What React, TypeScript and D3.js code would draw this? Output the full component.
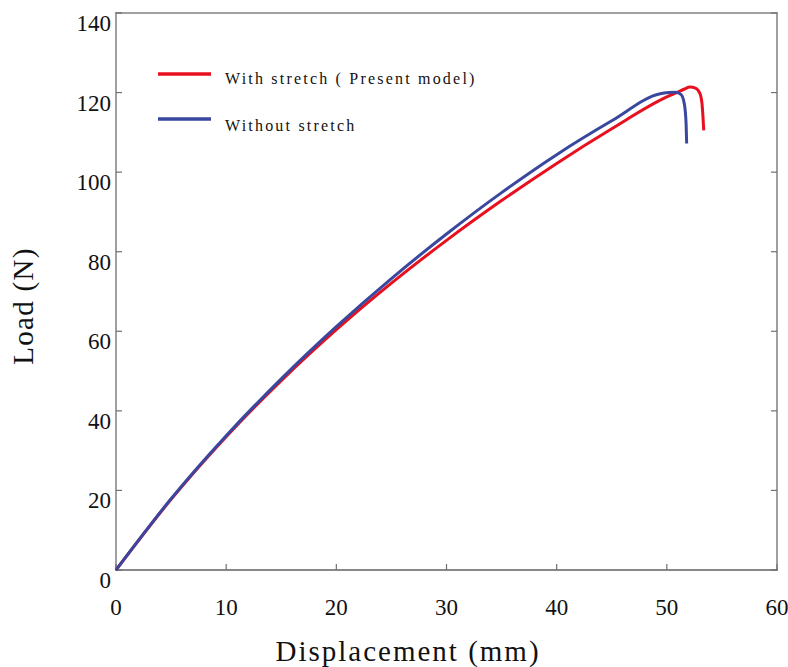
import React from "react";
import * as d3 from "d3";

// displacement (mm) / load (N)
const withStretchX = [0, 5, 10, 15, 20, 25, 30, 35, 40, 45, 50, 51, 51.6, 52.1, 52.6, 53.0, 53.2, 53.3, 53.35];
const withStretchY = [0, 17.75, 33.5, 47.6, 60.4, 72.1, 82.85, 92.85, 102.2, 110.9, 118.9, 120.1, 120.9, 121.4, 121.1, 119.8, 117, 113, 110.5];
const withoutStretchX = [0, 5, 10, 15, 20, 25, 30, 35, 40, 45, 49.4, 50.2, 50.8, 51.3, 51.6, 51.75, 51.8];
const withoutStretchY = [0, 17.9, 33.75, 48.05, 61.15, 73.25, 84.45, 94.85, 104.4, 112.9, 119.7, 120.0, 120.1, 119.5, 117, 112, 107.2];

const xTicks = [0, 10, 20, 30, 40, 50, 60];
const yTicks = [0, 20, 40, 60, 80, 100, 120, 140];

const seriesNames = ["With stretch ( Present model)", "Without stretch"];
const seriesColors = ["#e8101e", "#3a479e"];

const W = 788;
const H = 667;
const m = { left: 116, right: 11, top: 13, bottom: 97 };

export default function App() {
  const x = d3.scaleLinear().domain([0, 60]).range([m.left, W - m.right]);
  const y = d3.scaleLinear().domain([0, 140]).range([H - m.bottom, m.top]);

  const line = d3
    .line<[number, number]>()
    .x((d) => x(d[0]))
    .y((d) => y(d[1]))
    .curve(d3.curveMonotoneX);

  const series = [
    withStretchX.map((v, i) => [v, withStretchY[i]] as [number, number]),
    withoutStretchX.map((v, i) => [v, withoutStretchY[i]] as [number, number]),
  ];

  const x0 = x(0), x1 = x(60), y0 = y(0), y1 = y(140);
  const serif = "'Liberation Serif', 'Times New Roman', serif";

  return (
    <svg width={W} height={H} style={{ position: "absolute", left: 0, top: 0, background: "#fff" }}>
      {/* frame */}
      <line x1={x0} x2={x0} y1={y1} y2={y0} stroke="#a0a0a0" strokeWidth={2} />
      <line x1={x1} x2={x1} y1={y1} y2={y0} stroke="#a0a0a0" strokeWidth={2} />
      <line x1={x0 - 1} x2={x1 + 1} y1={y0} y2={y0} stroke="#606060" strokeWidth={1.5} />
      <line x1={x0 - 1} x2={x1 + 1} y1={y1} y2={y1} stroke="#808080" strokeWidth={1.5} />

      {yTicks.map((t) => (
        <g key={"y" + t}>
          <line x1={x0} x2={x0 + 6} y1={y(t)} y2={y(t)} stroke="#707070" strokeWidth={1.2} />
          <line x1={x1 - 6} x2={x1} y1={y(t)} y2={y(t)} stroke="#707070" strokeWidth={1.2} />
          <text x={x0 - 5} y={y(t) + 18} textAnchor="end" fontFamily={serif} fontSize={23} fill="#111">
            {t}
          </text>
        </g>
      ))}
      {xTicks.map((t) => (
        <g key={"x" + t}>
          <line x1={x(t)} x2={x(t)} y1={y0} y2={y0 - 6} stroke="#707070" strokeWidth={1.2} />
          <text x={x(t)} y={y0 + 45} textAnchor="middle" fontFamily={serif} fontSize={23} fill="#111">
            {t}
          </text>
        </g>
      ))}

      {series.map((s, i) => (
        <path key={i} d={line(s) || ""} fill="none" stroke={seriesColors[i]} strokeWidth={3} />
      ))}

      {/* legend */}
      {seriesNames.map((n, i) => (
        <g key={n} transform={`translate(158,${74 + i * 45})`}>
          <line x1={0} x2={53} y1={0} y2={0} stroke={seriesColors[i]} strokeWidth={3.5} />
          <text x={67} y={10 + i * 2} fontFamily={serif} fontSize={16} letterSpacing={2.2} fill="#111">
            {n}
          </text>
        </g>
      ))}

      <text x={408} y={661} textAnchor="middle" fontFamily={serif} fontSize={29} letterSpacing={2} fill="#111">
        Displacement (mm)
      </text>
      <text
        transform={`translate(33,${306}) rotate(-90)`}
        textAnchor="middle"
        fontFamily={serif}
        fontSize={29}
        letterSpacing={1.3}
        fill="#111"
      >
        Load (N)
      </text>
    </svg>
  );
}
